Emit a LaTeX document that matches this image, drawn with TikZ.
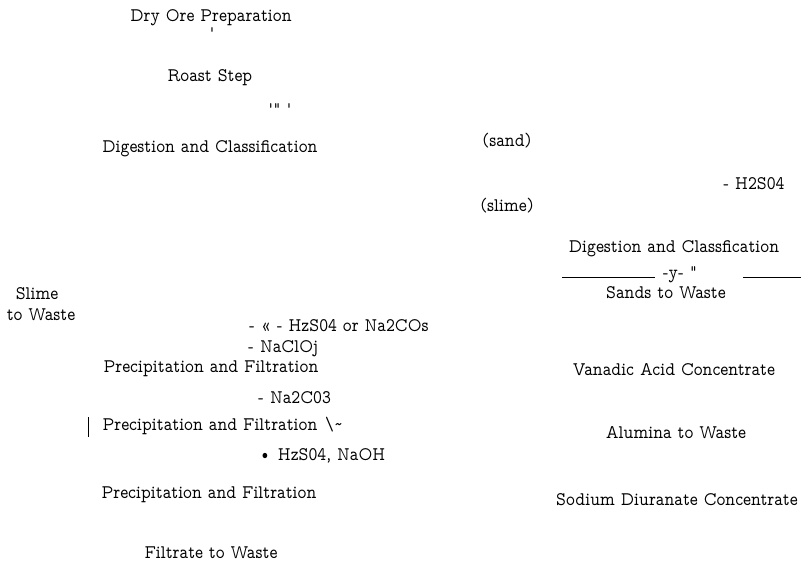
\documentclass[tikz,border=0pt]{standalone}
\usepackage{fontspec}
\newfontfamily\ocrfont[FakeStretch=0.88]{lmmonoprop10-regular.otf}
\begin{document}
\begin{tikzpicture}[x=1bp,y=-1bp,
  lbl/.style={font=\ocrfont\fontsize{19.3}{22}\selectfont, inner sep=0pt, anchor=base},
  lblw/.style={lbl, anchor=base west},
  rule/.style={line width=0.8bp}]
\useasboundingbox (0,0) rectangle (801,570);
% left column
\node[lbl] (dry) at (211,22) {Dry Ore Preparation};
\node[lbl] (tick1) at (212,40) {'};
\node[lbl] (roast) at (210,82) {Roast Step};
\node[lbl] (tick2) at (280,116) {\itshape '" '};
\node[lbl] (dig1) at (210,153) {Digestion and Classification};
\node[lbl] (sand) at (507,147) {(sand)};
\node[lbl] (slime) at (507,212) {(slime)};
\node[lbl] (h2so4) at (754,190) {- H2S04};
\node[lbl] (dig2) at (674,252) {Digestion and Classfication};
\coordinate (l1a) at (562,277);
\coordinate (l1b) at (655,277);
\node[lbl] (ymark) at (680,278) {-y- "};
\coordinate (l2a) at (743,277);
\coordinate (l2b) at (801,277);
\draw[rule] (l1a) -- (l1b);
\draw[rule] (l2a) -- (l2b);
\node[lbl] (sands) at (666,298) {Sands to Waste};
\node[lbl] (slimew1) at (37,299) {Slime};
\node[lbl] (slimew2) at (41,320) {to Waste};
\node[lblw] (acid) at (249,331) {- « - HzS04 or Na2COs};
\node[lblw] (naclo) at (248,352) {- NaClOj};
\node[lbl] (pf1) at (211,372) {Precipitation and Filtration};
\node[lblw] (na2co3) at (258,403) {- Na2C03};
\coordinate (bara) at (88,417);
\coordinate (barb) at (88,437);
\draw[line width=1bp] (bara) -- (barb);
\node[lbl] (pf2) at (210,430) {Precipitation and Filtration};
\node[lblw] (tilde) at (325,430) {\textbackslash\~{}};
\node[lblw] (naoh) at (258,460) {• HzS04, NaOH};
\node[lbl] (pf3) at (209,498) {Precipitation and Filtration};
\node[lbl] (filtrate) at (211,558) {Filtrate to Waste};
% right column
\node[lbl] (vanadic) at (674,375) {Vanadic Acid Concentrate};
\node[lbl] (alumina) at (676,438) {Alumina to Waste};
\node[lbl] (sodium) at (677,505) {Sodium Diuranate Concentrate};
\end{tikzpicture}
\end{document}
